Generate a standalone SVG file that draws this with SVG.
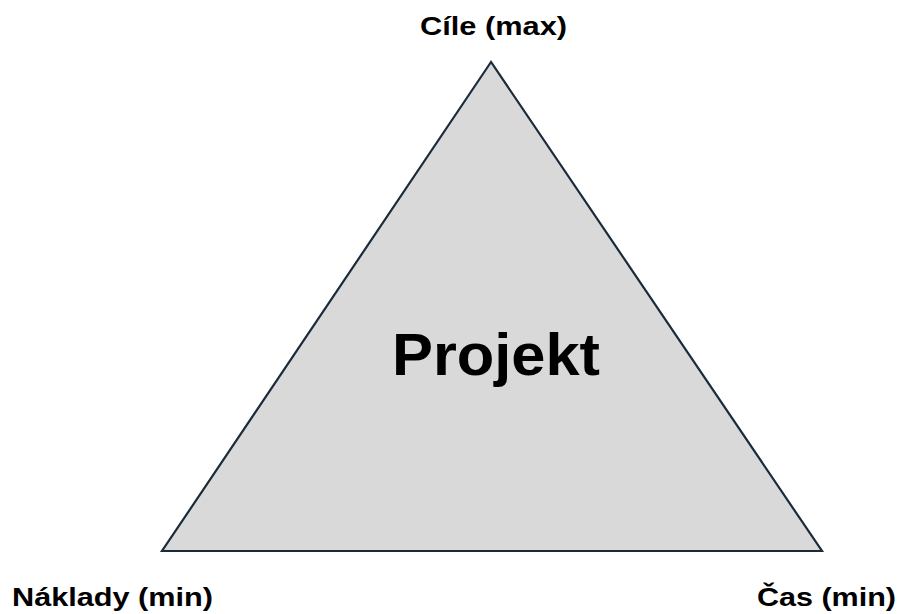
<svg xmlns="http://www.w3.org/2000/svg" width="900" height="614" viewBox="0 0 900 614">
  <style>
    .label { font-family: "Liberation Sans", Arial, sans-serif; font-weight: bold; fill: #000; }
    .corner { font-size: 25px; }
    .title { font-size: 59px; }
  </style>
  <rect width="900" height="614" fill="#ffffff"/>
  <g id="triangle">
    <polygon points="491,62 162,551 822,551" fill="#d9d9d9" stroke="#1b2b3b" stroke-width="2.2" stroke-linejoin="miter"/>
    <text class="label title" x="392" y="375" textLength="208" lengthAdjust="spacingAndGlyphs">Projekt</text>
  </g>
  <g id="goals">
    <text class="label corner" x="420" y="35" textLength="147" lengthAdjust="spacingAndGlyphs">Cíle (max)</text>
  </g>
  <g id="costs">
    <text class="label corner" x="12" y="606" textLength="201" lengthAdjust="spacingAndGlyphs">Náklady (min)</text>
  </g>
  <g id="time">
    <text class="label corner" x="757" y="606" textLength="139" lengthAdjust="spacingAndGlyphs">Čas (min)</text>
  </g>
</svg>
